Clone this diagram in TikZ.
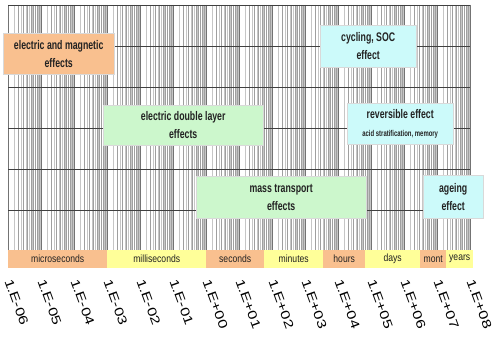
\documentclass[tikz,border=0pt]{standalone}
\usepackage{fontspec}
\setmainfont{Liberation Sans}
\newfontfamily\narrowfont[FakeStretch=0.7]{Liberation Sans}
\newfontfamily\bandfont[FakeStretch=0.82]{Liberation Sans}
\newfontfamily\tickfont[FakeStretch=1.3]{Liberation Sans}
\definecolor{boxorange}{HTML}{F9C08F}
\definecolor{boxgreen}{HTML}{CCF7CC}
\definecolor{boxcyan}{HTML}{CCFAFA}
\definecolor{bandorange}{HTML}{F9C08F}
\definecolor{bandyellow}{HTML}{FFFF99}
\definecolor{txt}{HTML}{222222}
\begin{document}
\begin{tikzpicture}[x=1pt,y=-1pt,
  minor/.style={draw=gray!75,line width=0.8pt},
  minorlight/.style={draw=gray!45,line width=0.6pt},
  major/.style={draw=gray!90!black,line width=0.9pt},
  hline/.style={draw=black!75,line width=0.8pt},
  effbox/.style={anchor=north west,inner sep=0pt,align=center,text=txt,
    font=\narrowfont\bfseries\fontsize{12.5}{18}\selectfont,
    draw=black!15,line width=0.4pt},
  band/.style={anchor=north west,inner sep=0pt,minimum height=18pt,
    text=txt,font=\bandfont\fontsize{10.5}{12}\selectfont},
  ticklabel/.style={anchor=south west,rotate=-70,inner sep=0pt,
    text=black,font=\tickfont\fontsize{12.5}{12.5}\selectfont}
]
\useasboundingbox (0,0) rectangle (493,352);
\fill[white] (0,0) rectangle (493,352);
% minor grid
\foreach \k in {0,...,13}{
  \foreach \n in {1.5,2.5,3.5,4.5,5.5,6.5,7.5,8.5,9.5}{
    \draw[minorlight] ({8+33*\k+33*log10(\n)},5) -- ++(0,245);
  }
  \foreach \n in {2,...,9}{
    \draw[minor] ({8+33*\k+33*log10(\n)},5) -- ++(0,245);
  }
}
\foreach \k in {0,...,14}{
  \draw[major] ({8+33*\k},5) -- ++(0,245);
}
% horizontal lines
\foreach \y in {5,46,87,128,169,210,250}{
  \draw[hline] (8,\y) -- (470,\y);
}
% effect boxes
\node[effbox,fill=boxorange,minimum width=111pt,minimum height=41pt] (em) at (3,33)
  {electric and magnetic\\effects};
\node[effbox,fill=boxgreen,minimum width=160pt,minimum height=40pt] (edl) at (103,105)
  {electric double layer\\effects};
\node[effbox,fill=boxcyan,minimum width=96pt,minimum height=42pt] (soc) at (320,25)
  {cycling, SOC\\effect};
\node[effbox,fill=boxcyan,minimum width=106pt,minimum height=41pt] (rev) at (347,103)
  {reversible effect\\{\fontsize{8.5}{10}\selectfont acid stratification, memory}};
\node[effbox,fill=boxgreen,minimum width=170pt,minimum height=42pt] (mt) at (196,176)
  {mass transport\\effects};
\node[effbox,fill=boxcyan,minimum width=60pt,minimum height=43pt] (age) at (423,175)
  {ageing\\effect};
% time bands
\node[band,fill=bandorange,minimum width=99pt] (us) at (8,250) {microseconds};
\node[band,fill=bandyellow,minimum width=99pt] (ms) at (107,250) {milliseconds};
\node[band,fill=bandorange,minimum width=58pt] (sec) at (206,250) {seconds};
\node[band,fill=bandyellow,minimum width=59pt] (min) at (264,250) {minutes};
\node[band,fill=bandorange,minimum width=42pt] (hr) at (323,250) {hours};
\node[band,fill=bandyellow,minimum width=55pt] (day) at (365,250) {days};
\node[band,fill=bandorange,minimum width=26pt] (mon) at (420,250) {mont};
\node[band,fill=bandyellow,minimum width=27pt] (yr) at (446,250) {years};
% tick labels
\foreach \lab [count=\i from 0] in {1.E-06,1.E-05,1.E-04,1.E-03,1.E-02,1.E-01,1.E+00,1.E+01,1.E+02,1.E+03,1.E+04,1.E+05,1.E+06,1.E+07,1.E+08}{
  \node[ticklabel] (t\i) at ({4+33*\i},281) {\lab};
}
\end{tikzpicture}
\end{document}
